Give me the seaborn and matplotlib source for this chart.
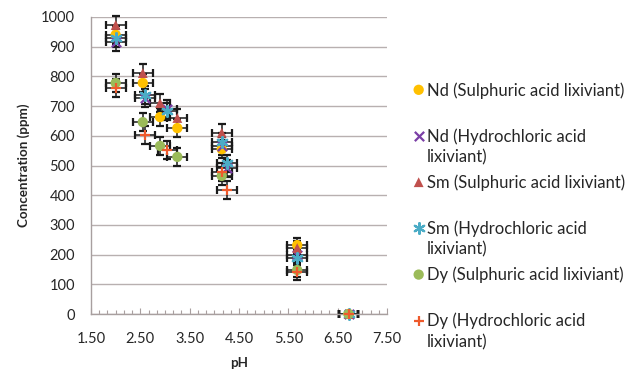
import matplotlib
matplotlib.use("Agg")
import matplotlib.pyplot as plt
import seaborn as sns
import numpy as np
import pandas as pd
from matplotlib.ticker import MultipleLocator, FormatStrFormatter

# ---- data ----
ph_sulph = [2.00, 2.55, 2.90, 3.25, 4.15, 5.68, 6.72]
ph_hcl = [2.00, 2.60, 3.05, 4.15, 4.25, 5.68, 6.72]

nd_sulph = [940, 778, 663, 626, 555, 232, 0]
nd_hcl = [915, 728, 690, 565, 490, 200, 0]
sm_sulph = [973, 811, 710, 660, 610, 222, 0]
sm_hcl = [930, 737, 682, 580, 507, 190, 0]
dy_sulph = [778, 646, 566, 529, 465, 148, 0]
dy_hcl = [762, 603, 552, 478, 418, 140, 0]

ph_err = [0.2, 0.2, 0.2, 0.2, 0.2, 0.2, 0.2]
conc_err = [30, 30, 30, 30, 30, 25, 0]

series_labels = [
    "Nd (Sulphuric acid lixiviant)",
    "Nd (Hydrochloric acid\nlixiviant)",
    "Sm (Sulphuric acid lixiviant)",
    "Sm (Hydrochloric acid\nlixiviant)",
    "Dy (Sulphuric acid lixiviant)",
    "Dy (Hydrochloric acid\nlixiviant)",
]
x_tick_values = [1.5, 2.5, 3.5, 4.5, 5.5, 6.5, 7.5]
y_tick_values = [0, 100, 200, 300, 400, 500, 600, 700, 800, 900, 1000]

series = [
    (ph_sulph, nd_sulph), (ph_hcl, nd_hcl),
    (ph_sulph, sm_sulph), (ph_hcl, sm_hcl),
    (ph_sulph, dy_sulph), (ph_hcl, dy_hcl),
]
colors = ["#FFC000", "#7B3FA6", "#C0504D", "#4BACC6", "#9BBB59", "#EE5A2C"]
markers = ["o", "x", "^", (6, 2, 0), "o", "+"]
sizes = [55, 45, 50, 60, 55, 60]

sns.set_theme(style="white")
plt.rcParams["font.family"] = ["Lato", "DejaVu Sans"]

fig = plt.figure(figsize=(6.34, 3.82), dpi=100)
ax = fig.add_axes([91 / 634, 1 - 314 / 382, (387 - 91) / 634, (314 - 17) / 382])

# error bars first
for xs, ys in series:
    ax.errorbar(xs, ys, xerr=ph_err, yerr=conc_err, fmt="none", ecolor="#1a1a1a",
                elinewidth=1.1, capsize=2.8, capthick=1.6, zorder=2, clip_on=False)

for (xs, ys), lab, c, m, s in zip(series, series_labels, colors, markers, sizes):
    df = pd.DataFrame({"pH": xs, "conc": ys})
    filled = m in ("o", "^")
    kw = dict(edgecolor="none") if filled else dict(linewidth=1.6)
    # every legend entry gets an equal two-line slot, like the original
    slot_label = lab if "\n" in lab else lab + "\n "
    sns.scatterplot(data=df, x="pH", y="conc", ax=ax, color=c, marker=m, s=s,
                    label=slot_label, zorder=3, clip_on=False, **kw)

ax.set_xlim(1.5, 7.5)
ax.set_ylim(0, 1000)
ax.set_xticks(x_tick_values)
ax.set_yticks(y_tick_values)
ax.xaxis.set_major_formatter(FormatStrFormatter("%.2f"))
ax.xaxis.set_minor_locator(MultipleLocator(1 / 6))
ax.tick_params(axis="x", which="both", direction="in", length=3, width=0.8,
               color="#a89f9f", bottom=True, pad=13, labelsize=10.5, labelcolor="#262626")
ax.tick_params(axis="x", which="major", length=4)
ax.tick_params(axis="y", which="both", left=False, length=0, pad=11.5,
               labelsize=10.5, labelcolor="#262626")

ax.grid(axis="y", color="#b8b0b0", linewidth=1.0)
ax.grid(axis="x", visible=False)
ax.set_axisbelow(True)
for side in ["top", "right"]:
    ax.spines[side].set_visible(False)
for side in ["left", "bottom"]:
    ax.spines[side].set_color("#a89f9f")
    ax.spines[side].set_linewidth(1.0)

ax.set_xlabel("pH", fontsize=9.6, fontweight="bold", color="#262626", labelpad=8)
ax.set_ylabel("Concentration (ppm)", fontsize=9.6, fontweight="bold", color="#262626",
              labelpad=8)

fs = 12
leg = ax.legend(loc="upper left", bbox_to_anchor=(412 / 634, 1 - 82 / 382),
                bbox_transform=fig.transFigure, frameon=False, fontsize=fs,
                labelspacing=0.54, handletextpad=0.1, handlelength=0.8,
                handleheight=1.25, borderaxespad=0, borderpad=0)
for t in leg.get_texts():
    t.set_color("#262626")
    t.set_linespacing(1.35)
# align each marker with the first line of its label
for col in leg._legend_handle_box.get_children():
    for row in col.get_children():
        row.align = "top"

fig.savefig("out.png", dpi=100)
